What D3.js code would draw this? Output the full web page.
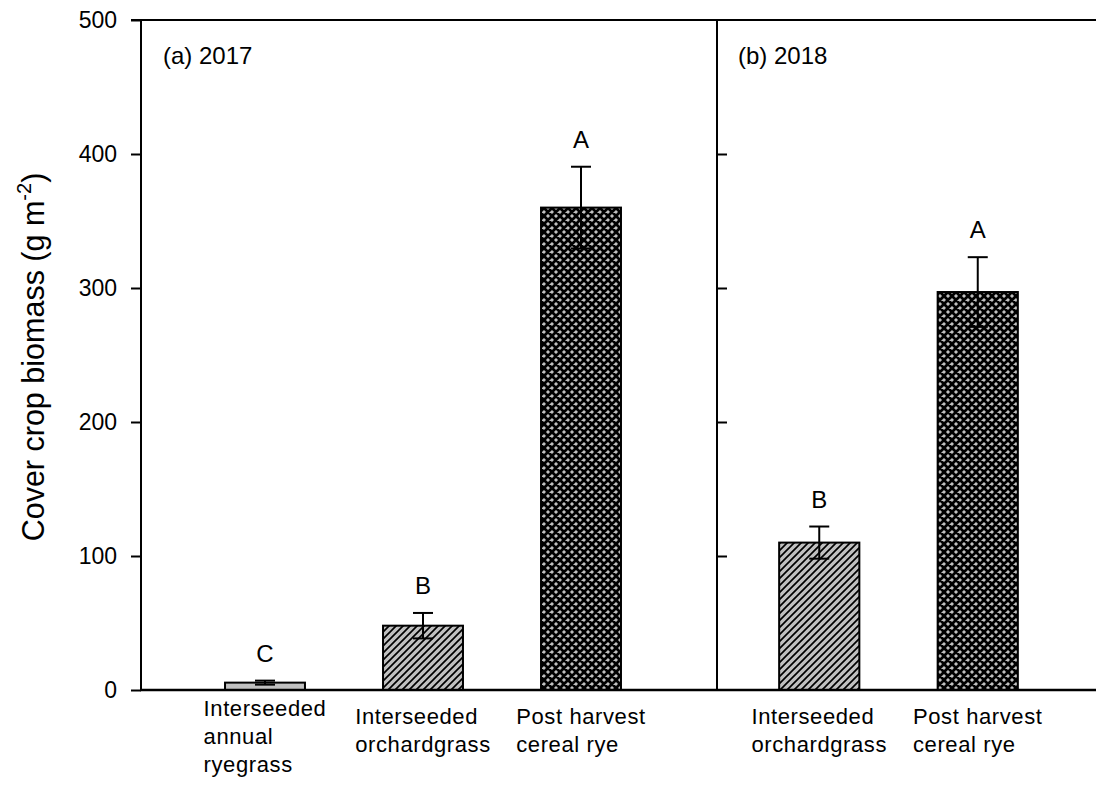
<!DOCTYPE html>
<html>
<head>
<meta charset="utf-8">
<script src="https://cdn.jsdelivr.net/npm/d3@7"></script>
<style>
  html, body { margin: 0; padding: 0; background: #fff; }
  svg { display: block; font-family: "Liberation Sans", Arial, sans-serif; }
</style>
</head>
<body>
<svg id="chart" width="1096" height="790"></svg>
<script>
// Cover crop biomass by treatment, two seasons
const panels2017 = ["Interseeded annual ryegrass", "Interseeded orchardgrass", "Post harvest cereal rye"];
const means2017 = [5.5, 48, 360];
const se2017 = [1.5, 9.5, 30.5];
const letters2017 = ["C", "B", "A"];
const fills2017 = ["solid", "hatch", "cross"];

const panels2018 = ["Interseeded orchardgrass", "Post harvest cereal rye"];
const means2018 = [110, 297];
const se2018 = [12, 26];
const letters2018 = ["B", "A"];
const fills2018 = ["hatch", "cross"];

const yTicks = [0, 100, 200, 300, 400, 500];
const panelTitles = ["(a) 2017", "(b) 2018"];

// label line breaks per category
const labelLines = {
  "Interseeded annual ryegrass": ["Interseeded", "annual", "ryegrass"],
  "Interseeded orchardgrass": ["Interseeded", "orchardgrass"],
  "Post harvest cereal rye": ["Post harvest", "cereal rye"]
};

const svg = d3.select("#chart");
const plotLeft = 141, divider = 717, plotRight = 1096, plotTop = 20, plotBottom = 690;

const y = d3.scaleLinear().domain([0, 500]).range([plotBottom, plotTop]);

// fill patterns
const defs = svg.append("defs");
const hatch = defs.append("pattern").attr("id", "hatch")
  .attr("patternUnits", "userSpaceOnUse").attr("width", 7).attr("height", 7);
hatch.append("rect").attr("width", 7).attr("height", 7).attr("fill", "#c0c0c0");
hatch.append("path").attr("d", "M-1,8 L8,-1 M-1,1 L1,-1 M6,8 L8,6")
  .attr("stroke", "#000").attr("stroke-width", 1.7);

const cross = defs.append("pattern").attr("id", "cross")
  .attr("patternUnits", "userSpaceOnUse").attr("width", 8).attr("height", 8);
cross.append("rect").attr("width", 8).attr("height", 8).attr("fill", "#c0c0c0");
cross.append("path").attr("d", "M-1,9 L9,-1 M-1,1 L1,-1 M7,9 L9,7 M-1,-1 L9,9 M-1,7 L1,9 M7,-1 L9,1")
  .attr("stroke", "#000").attr("stroke-width", 2.8);

const fillFor = f => f === "solid" ? "#c0c0c0" : `url(#${f})`;

function drawPanel(cats, means, ses, letters, fills, r0, r1, title, titleX) {
  const x = d3.scaleBand().domain(cats).range([r0, r1])
    .paddingInner(0.494).paddingOuter(0.247);
  const data = cats.map((c, i) => ({ c, m: means[i], se: ses[i], l: letters[i], f: fills[i] }));
  const g = svg.append("g");

  g.selectAll("rect.bar").data(data).join("rect").attr("class", "bar")
    .attr("x", d => x(d.c)).attr("width", x.bandwidth())
    .attr("y", d => y(d.m)).attr("height", d => y(0) - y(d.m))
    .attr("fill", d => fillFor(d.f))
    .attr("stroke", "#000").attr("stroke-width", 2);

  const cap = 10;
  const eb = g.selectAll("g.err").data(data).join("g").attr("class", "err")
    .attr("stroke", "#000").attr("stroke-width", 2);
  eb.append("line")
    .attr("x1", d => x(d.c) + x.bandwidth() / 2).attr("x2", d => x(d.c) + x.bandwidth() / 2)
    .attr("y1", d => y(d.m - d.se)).attr("y2", d => y(d.m + d.se));
  eb.append("line")
    .attr("x1", d => x(d.c) + x.bandwidth() / 2 - cap).attr("x2", d => x(d.c) + x.bandwidth() / 2 + cap)
    .attr("y1", d => y(d.m + d.se)).attr("y2", d => y(d.m + d.se));
  eb.append("line")
    .attr("x1", d => x(d.c) + x.bandwidth() / 2 - cap).attr("x2", d => x(d.c) + x.bandwidth() / 2 + cap)
    .attr("y1", d => y(d.m - d.se)).attr("y2", d => y(d.m - d.se));

  g.selectAll("text.letter").data(data).join("text").attr("class", "letter")
    .attr("x", d => x(d.c) + x.bandwidth() / 2)
    .attr("y", d => y(d.m + d.se) - 19)
    .attr("text-anchor", "middle").attr("font-size", 24).attr("fill", "#000")
    .text(d => d.l);

  // category labels: left-aligned block centred under each bar
  data.forEach(d => {
    const lines = labelLines[d.c];
    const t = g.append("text").attr("font-size", 22).attr("fill", "#000")
      .attr("letter-spacing", 0.6);
    const y0 = lines.length === 3 ? 716 : 724;
    lines.forEach((ln, i) => {
      t.append("tspan").attr("y", y0 + i * 28).attr("x", 0).text(ln);
    });
    const w = t.node().getBBox().width;
    const cx = x(d.c) + x.bandwidth() / 2;
    t.selectAll("tspan").attr("x", cx - w / 2);
  });

  svg.append("text").attr("x", titleX).attr("y", 64)
    .attr("font-size", 24).attr("fill", "#000").text(title);
}

drawPanel(panels2017, means2017, se2017, letters2017, fills2017, 186, 660, panelTitles[0], 163);
drawPanel(panels2018, means2018, se2018, letters2018, fills2018, 740, 1057, panelTitles[1], 738);

// left axis
const yAxis = d3.axisLeft(y).tickValues(yTicks).tickSize(10).tickPadding(14);
const ya = svg.append("g").attr("transform", `translate(${plotLeft},0)`).call(yAxis);
ya.select(".domain").remove();
ya.selectAll(".tick line").attr("stroke", "#000").attr("stroke-width", 2);
ya.selectAll(".tick text").attr("font-size", 23).attr("fill", "#000")
  .attr("font-family", "Liberation Sans, Arial, sans-serif");

// inner ticks on the 2018 panel's axis
const yAxisB = d3.axisRight(y).tickValues(yTicks.slice(1, -1)).tickSize(10).tickFormat("");
const yb = svg.append("g").attr("transform", `translate(${divider},0)`).call(yAxisB);
yb.select(".domain").remove();
yb.selectAll(".tick line").attr("stroke", "#000").attr("stroke-width", 2);

// frame lines
const frame = svg.append("g").attr("stroke", "#000").attr("stroke-width", 2);
frame.append("line").attr("x1", plotLeft).attr("x2", plotLeft).attr("y1", plotTop).attr("y2", plotBottom);
frame.append("line").attr("x1", divider).attr("x2", divider).attr("y1", plotTop).attr("y2", plotBottom);
frame.append("line").attr("x1", plotLeft - 10).attr("x2", plotRight).attr("y1", plotTop).attr("y2", plotTop);
frame.append("line").attr("x1", plotLeft - 1).attr("x2", plotRight).attr("y1", plotBottom).attr("y2", plotBottom).attr("stroke-width", 2.5);

// y-axis title
const yt = svg.append("text")
  .attr("transform", "translate(44,357) rotate(-90)")
  .attr("text-anchor", "middle").attr("font-size", 30.5).attr("fill", "#000");
yt.append("tspan").text("Cover crop biomass (g m");
yt.append("tspan").attr("font-size", 20).attr("dy", -13).text("-2");
yt.append("tspan").attr("dy", 13).text(")");
</script>
</body>
</html>
